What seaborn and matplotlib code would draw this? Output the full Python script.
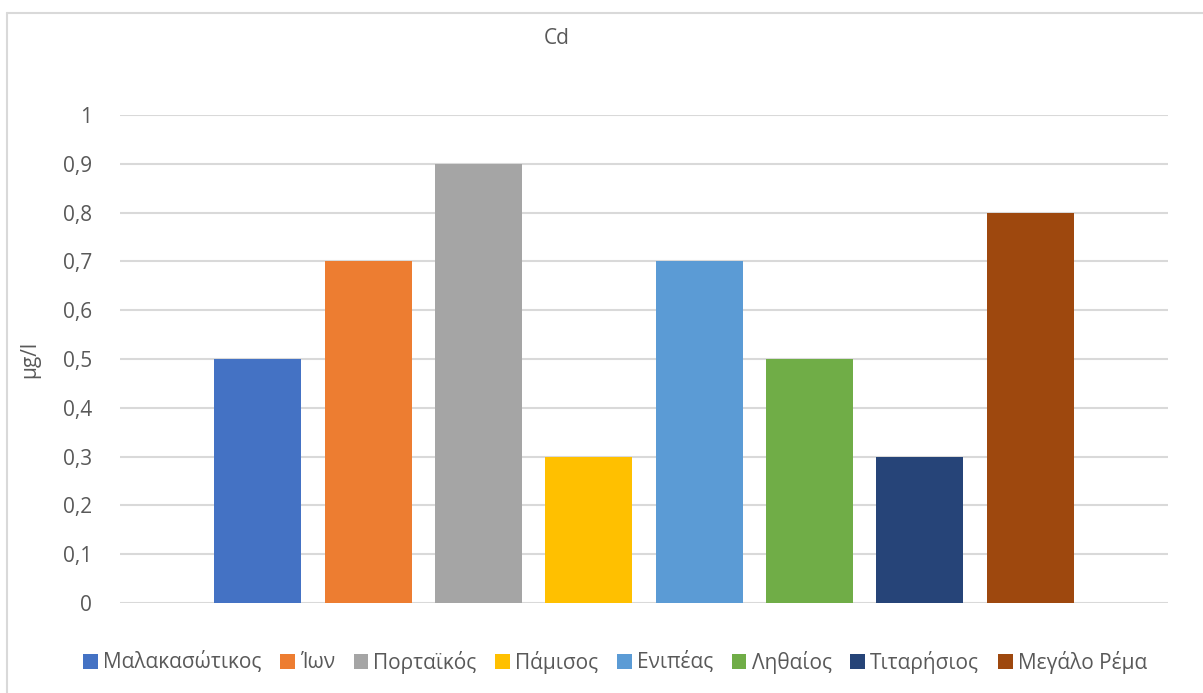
import matplotlib
matplotlib.use("Agg")
import matplotlib.pyplot as plt
import seaborn as sns
import pandas as pd
from matplotlib.patches import Patch
from matplotlib.lines import Line2D

rivers = ["Μαλακασώτικος", "Ίων", "Πορταϊκός", "Πάμισος", "Ενιπέας", "Ληθαίος", "Τιταρήσιος", "Μεγάλο Ρέμα"]
values = [0.5, 0.7, 0.9, 0.3, 0.7, 0.5, 0.3, 0.8]
colors = ["#4472C4", "#ED7D31", "#A5A5A5", "#FFC000", "#5B9BD5", "#70AD47", "#264478", "#9E480E"]
yticks = [0, 0.1, 0.2, 0.3, 0.4, 0.5, 0.6, 0.7, 0.8, 0.9, 1.0]
ytick_labels = ["0", "0,1", "0,2", "0,3", "0,4", "0,5", "0,6", "0,7", "0,8", "0,9", "1"]
title = "Cd"
ylabel = "μg/l"

sns.set_theme(style="white")
plt.rcParams["font.family"] = ["Open Sans", "DejaVu Sans"]
text_color = "#595959"
grid_color = "#D9D9D9"
fs = 15

W, H = 1203, 693
fig = plt.figure(figsize=(W / 100, H / 100), dpi=100)
fig.patch.set_facecolor("white")

ax = fig.add_axes([120 / W, 1 - 603 / H, (1168 - 120) / W, (603 - 115) / H])

df = pd.DataFrame({"river": rivers, "value": values})
sns.barplot(data=df, x="river", y="value", hue="river", palette=colors,
            width=0.79, legend=False, ax=ax, saturation=1, linewidth=0)

ax.set_xlim(-1.25, 8.25)
ax.set_ylim(0, 1.0)
ax.set_yticks(yticks)
ax.set_yticklabels(ytick_labels, color=text_color, fontsize=fs)
ax.set_xticks([])
ax.set_xlabel("")
ax.set_ylabel(ylabel, color=text_color, fontsize=fs)
ax.yaxis.set_label_coords((40 - 120) / 1048, 0.5)
ax.tick_params(axis="y", length=0, pad=20)
for s in ax.spines.values():
    s.set_visible(False)
ax.yaxis.grid(True, color=grid_color, linewidth=1.5)
ax.set_axisbelow(True)

fig.text(557 / W, 1 - 38 / H, title, ha="center", va="center", color=text_color, fontsize=fs)

handles = [Patch(facecolor=c, edgecolor="none", label=r) for c, r in zip(colors, rivers)]
fig.legend(handles=handles, loc="center", bbox_to_anchor=(615 / W, 1 - 662 / H), ncol=8,
           frameon=False, fontsize=fs, labelcolor=text_color, handlelength=0.7,
           handleheight=0.7, handletextpad=0.25, columnspacing=0.9)

# chart area border
fig.add_artist(Line2D([7 / W, 1.0], [1 - 13 / H, 1 - 13 / H], color=grid_color, linewidth=1.5))
fig.add_artist(Line2D([7 / W, 7 / W], [1 - 13 / H, 0], color=grid_color, linewidth=1.5))

fig.savefig("out.png", dpi=100, facecolor="white")
